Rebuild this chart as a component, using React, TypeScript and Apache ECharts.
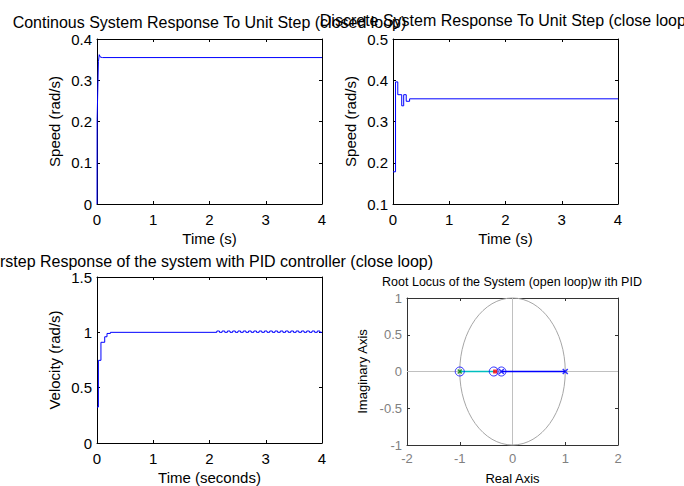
import React, { useEffect, useRef } from "react";
import * as echarts from "echarts";

const FONT = '"Liberation Sans", Arial, Helvetica, sans-serif';

// Plot 1: continuous closed-loop step response
const contT = [0, 0.002, 0.025, 0.04, 0.06, 0.1, 4];
const contV = [0, 0.205, 0.345, 0.362, 0.356, 0.355, 0.355];

// Plot 2: discrete closed-loop step response (stairs)
const discT = [0, 0.045, 0.085, 0.155, 0.19, 0.235, 0.295, 4];
const discV = [0.178, 0.396, 0.365, 0.338, 0.365, 0.349, 0.355, 0.355];

// Plot 3: step response with PID controller (stairs)
const pidT = [
  0, 0.025, 0.07, 0.137, 0.178, 0.238,
  2.13, 2.177, 2.224, 2.271, 2.318, 2.365, 2.412, 2.459, 2.506, 2.553,
  2.6, 2.647, 2.694, 2.741, 2.788, 2.835, 2.882, 2.929, 2.976, 3.023,
  3.07, 3.117, 3.164, 3.211, 3.258, 3.305, 3.352, 3.399, 3.446, 3.493,
  3.54, 3.587, 3.634, 3.681, 3.728, 3.775, 3.822, 3.869, 3.916, 3.963,
  4,
];
const pidV = [
  0.325, 0.747, 0.91, 0.96, 0.99, 1.0,
  1.012, 1.0, 1.012, 1.0, 1.012, 1.0, 1.012, 1.0, 1.012, 1.0,
  1.012, 1.0, 1.012, 1.0, 1.012, 1.0, 1.012, 1.0, 1.012, 1.0,
  1.012, 1.0, 1.012, 1.0, 1.012, 1.0, 1.012, 1.0, 1.012, 1.0,
  1.012, 1.0, 1.012, 1.0, 1.012, 1.0, 1.012, 1.0, 1.012, 1.0,
  1.0,
];

// Plot 4: root locus
const zerosRe = [-1, -0.355, -0.21];
const polesBlueRe = [1, -0.21];
const polesGreenRe = [-1];
const closedPoleRe = [-0.33];
const cyanBranch = [-1, -0.33];
const blueBranch = [-0.21, 1];
const unitCircle = [[0, 0, 1]];

// Axis ranges [min, max, interval]
const timeRange = [0, 4, 1];
const speedRange1 = [0, 0.4, 0.1];
const speedRange2 = [0.1, 0.5, 0.1];
const velRange = [0, 1.5, 0.5];
const reRange = [-2, 2, 1];
const imRange = [-1, 1, 0.5];

const titles = [
  "Continous System Response To Unit Step (closed loop)",
  "Discrete System Response To Unit Step (close loop)",
  "rstep Response of the system with PID controller (close loop)",
  "Root Locus of the System (open loop)w ith PID",
];

const pairs = (xs: number[], ys: number[]) => xs.map((x, i) => [x, ys[i]]);
const onAxis = (xs: number[]) => xs.map((x) => [x, 0]);

type AxCfg = {
  grid: number;
  range: number[];
  name: string;
  gap: number;
  line: string;
  label: string;
  fs: number;
  nfs: number;
  margin: number;
};

function makeAxes(c: AxCfg, dims: [string, string]) {
  const base = (main: boolean) => ({
    type: "value",
    gridIndex: c.grid,
    min: c.range[0],
    max: c.range[1],
    interval: c.range[2],
    position: main ? dims[0] : dims[1],
    name: main ? c.name : "",
    nameLocation: "middle",
    nameGap: c.gap,
    nameTextStyle: { color: "#000", fontSize: c.nfs, fontFamily: FONT },
    axisLine: { show: true, onZero: false, lineStyle: { color: c.line, width: 1 } },
    axisTick: { show: true, inside: true, length: 3, lineStyle: { color: c.line } },
    axisLabel: { show: main, color: c.label, fontSize: c.fs, fontFamily: FONT, margin: c.margin },
    splitLine: { show: false },
  });
  return [base(true), base(false)];
}
const xAxes = (c: AxCfg) => makeAxes(c, ["bottom", "top"]);
const yAxes = (c: AxCfg) => makeAxes(c, ["left", "right"]);

const xMark = "path://M0,0L10,10M10,0L0,10";

export default function App() {
  const ref = useRef<HTMLDivElement>(null);
  useEffect(() => {
    if (!ref.current) return;
    const chart = echarts.init(ref.current, undefined, { renderer: "svg" });
    const TFS = 16;
    const FS = 15;
    const option: any = {
      animation: false,
      backgroundColor: "#ffffff",
      grid: [
        { left: 97, top: 39, width: 225, height: 165 },
        { left: 393, top: 39, width: 225, height: 165 },
        { left: 97, top: 277, width: 225, height: 166 },
        { left: 407, top: 298, width: 211, height: 147 },
      ],
      xAxis: [
        ...xAxes({ grid: 0, range: timeRange, name: "Time (s)", gap: 27, line: "#000", label: "#000", fs: FS, nfs: FS, margin: 8 }),
        ...xAxes({ grid: 1, range: timeRange, name: "Time (s)", gap: 27, line: "#000", label: "#000", fs: FS, nfs: FS, margin: 8 }),
        ...xAxes({ grid: 2, range: timeRange, name: "Time (seconds)", gap: 27, line: "#000", label: "#000", fs: FS, nfs: FS, margin: 8 }),
        ...xAxes({ grid: 3, range: reRange, name: "Real Axis", gap: 27, line: "#333", label: "#808080", fs: 13, nfs: 13, margin: 7 }),
      ],
      yAxis: [
        ...yAxes({ grid: 0, range: speedRange1, name: "Speed (rad/s)", gap: 35, line: "#000", label: "#000", fs: FS, nfs: FS, margin: 5 }),
        ...yAxes({ grid: 1, range: speedRange2, name: "Speed (rad/s)", gap: 35, line: "#000", label: "#000", fs: FS, nfs: FS, margin: 5 }),
        ...yAxes({ grid: 2, range: velRange, name: "Velocity (rad/s)", gap: 35, line: "#000", label: "#000", fs: FS, nfs: FS, margin: 5 }),
        ...yAxes({ grid: 3, range: imRange, name: "Imaginary Axis", gap: 38, line: "#333", label: "#808080", fs: 13, nfs: 13, margin: 5 }),
      ],
      graphic: [
        { type: "text", x: 209.5, y: 22.5, style: { text: titles[0], fill: "#000", font: `${TFS}px ${FONT}`, align: "center", verticalAlign: "middle" } },
        { type: "text", x: 505.5, y: 20, style: { text: titles[1], fill: "#000", font: `${TFS}px ${FONT}`, align: "center", verticalAlign: "middle" } },
        { type: "text", x: 0, y: 261.3, style: { text: titles[2], fill: "#000", font: `${TFS}px ${FONT}`, align: "left", verticalAlign: "middle" } },
        { type: "text", x: 512, y: 282.3, style: { text: titles[3], fill: "#000", font: `12.5px ${FONT}`, align: "center", verticalAlign: "middle" } },
      ],
      series: [
        {
          type: "line", xAxisIndex: 0, yAxisIndex: 0, data: pairs(contT, contV),
          symbol: "none", lineStyle: { color: "#0000ff", width: 1 },
        },
        {
          type: "line", xAxisIndex: 2, yAxisIndex: 2, data: pairs(discT, discV), step: "end",
          symbol: "none", lineStyle: { color: "#0000ff", width: 1 },
        },
        {
          type: "line", xAxisIndex: 4, yAxisIndex: 4, data: pairs(pidT, pidV), step: "end",
          symbol: "none", lineStyle: { color: "#0000ff", width: 1 },
        },
        {
          type: "custom", xAxisIndex: 6, yAxisIndex: 6, data: unitCircle, silent: true, z: 1,
          renderItem: (params: any, api: any) => {
            const c = api.coord([api.value(0), api.value(1)]);
            const s = api.size([api.value(2), api.value(2)]);
            return {
              type: "ellipse",
              shape: { cx: c[0], cy: c[1], rx: s[0], ry: s[1] },
              style: { fill: "none", stroke: "#a6a6a6", lineWidth: 1 },
            };
          },
          markLine: {
            silent: true, symbol: "none", label: { show: false }, z: 1,
            lineStyle: { color: "#c0c0c0", type: "solid", width: 1 },
            data: [{ xAxis: 0 }, { yAxis: 0 }],
          },
        },
        {
          type: "line", xAxisIndex: 6, yAxisIndex: 6, data: onAxis(cyanBranch), z: 3,
          symbol: "none", lineStyle: { color: "#00bfbf", width: 1.5 },
        },
        {
          type: "line", xAxisIndex: 6, yAxisIndex: 6, data: onAxis(blueBranch), z: 3,
          symbol: "none", lineStyle: { color: "#0000ff", width: 1.5 },
        },
        {
          type: "scatter", xAxisIndex: 6, yAxisIndex: 6, data: onAxis(zerosRe), z: 4,
          symbol: "circle", symbolSize: 9,
          itemStyle: { color: "rgba(0,0,0,0)", borderColor: "#0000ff", borderWidth: 1 },
        },
        {
          type: "scatter", xAxisIndex: 6, yAxisIndex: 6, data: onAxis(polesBlueRe), z: 5,
          symbol: xMark, symbolSize: 5,
          itemStyle: { color: "rgba(0,0,0,0)", borderColor: "#0000ff", borderWidth: 1.5 },
        },
        {
          type: "scatter", xAxisIndex: 6, yAxisIndex: 6, data: onAxis(polesGreenRe), z: 5,
          symbol: xMark, symbolSize: 4,
          itemStyle: { color: "rgba(0,0,0,0)", borderColor: "#008000", borderWidth: 1.5 },
        },
        {
          type: "scatter", xAxisIndex: 6, yAxisIndex: 6, data: onAxis(closedPoleRe), z: 6,
          symbol: "rect", symbolSize: 4,
          itemStyle: { color: "#ff0000" },
        },
      ],
    };
    chart.setOption(option);
    return () => chart.dispose();
  }, []);
  return (
    <div
      ref={ref}
      style={{ position: "absolute", left: 0, top: 0, width: 684, height: 486, background: "#fff" }}
    />
  );
}
